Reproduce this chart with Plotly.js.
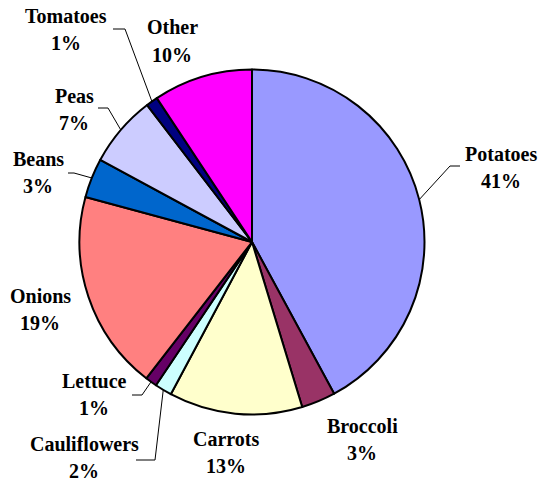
<!DOCTYPE html>
<html>
<head>
<meta charset="utf-8">
<script src="https://cdn.plot.ly/plotly-3.0.1.min.js"></script>
<style>
html,body{margin:0;padding:0;background:#fff;}
#chart{width:541px;height:484px;}
#chart svg text{font-family:'Liberation Serif','Times New Roman',serif !important;font-weight:bold !important;}
</style>
</head>
<body>
<div id="chart"></div>
<script>
const categories = ['Potatoes','Broccoli','Carrots','Cauliflowers','Lettuce','Onions','Beans','Peas','Tomatoes','Other'];
const values = [42.1, 3.2, 12.5, 1.6, 1.1, 18.7, 3.7, 6.7, 1.1, 9.3];
const percentLabels = ['41%','3%','13%','2%','1%','19%','3%','7%','1%','10%'];
const sliceColors = ['#9999FF','#993366','#FFFFCC','#CCFFFF','#660066','#FF8080','#0066CC','#CCCCFF','#000080','#FF00FF'];

// ---- layout helpers (pixel positions of label blocks and leader elbows) ----
const W = 541, H = 484;
const domX = [0.1469, 0.7847], domY = [0.1436, 0.8564];
const labelPos = {
  Potatoes: [501, 167], Broccoli: [362, 439], Carrots: [226, 452], Cauliflowers: [84, 457],
  Lettuce: [94, 394], Onions: [40, 309], Beans: [38, 172], Peas: [74, 109], Tomatoes: [66, 30], Other: [172, 41]
};
const leaders = {
  Potatoes: [[450, 166], [460, 166]],
  Cauliflowers: [[155, 460], [136, 460]],
  Lettuce: [[142, 395], [132, 395]],
  Beans: [[74, 173], [68, 173]],
  Peas: [[108, 108], [98, 108]],
  Tomatoes: [[125, 29], [113, 29]]
};
const lineGap = 27;

const total = values.reduce((a, b) => a + b, 0);
const cx = (domX[0] + domX[1]) / 2 * W;
const cy = (1 - (domY[0] + domY[1]) / 2) * H;
const R = Math.min((domX[1] - domX[0]) * W, (domY[1] - domY[0]) * H) / 2;
const px = x => x / W, py = y => 1 - y / H;
const labelFont = {family: 'Liberation Serif, Times New Roman, serif', size: 20, color: 'black', weight: 'bold'};

const annotations = [], shapes = [];
let cum = 0;
categories.forEach((c, i) => {
  const mid = (cum + values[i] / 2) / total * 2 * Math.PI;
  cum += values[i];
  const p = labelPos[c];
  [c, percentLabels[i]].forEach((t, k) => {
    annotations.push({
      xref: 'paper', yref: 'paper', x: px(p[0]), y: py(p[1] + (k - 0.5) * lineGap),
      xanchor: 'center', yanchor: 'middle', showarrow: false,
      text: t, font: labelFont
    });
  });
  if (leaders[c]) {
    const sx = cx + R * Math.sin(mid), sy = cy - R * Math.cos(mid);
    const [e, f] = leaders[c];
    shapes.push({
      type: 'path', xref: 'paper', yref: 'paper',
      path: `M ${px(sx)} ${py(sy)} L ${px(e[0])} ${py(e[1])} L ${px(f[0])} ${py(f[1])}`,
      line: {color: 'black', width: 1}
    });
  }
});

const trace = {
  type: 'pie', labels: categories, values: values, sort: false, direction: 'clockwise', rotation: 0,
  marker: {colors: sliceColors, line: {color: 'black', width: 2}},
  textinfo: 'none', hoverinfo: 'label',
  domain: {x: domX, y: domY}
};

Plotly.newPlot('chart', [trace], {
  width: W, height: H, margin: {l: 0, r: 0, t: 0, b: 0},
  font: {family: 'Liberation Serif, Times New Roman, serif'},
  showlegend: false, paper_bgcolor: 'white', annotations, shapes
}, {displayModeBar: false});
</script>
</body>
</html>
